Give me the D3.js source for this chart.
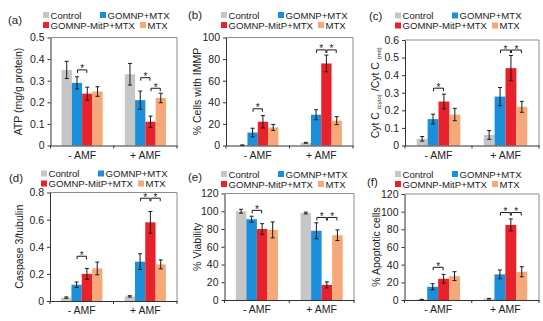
<!DOCTYPE html>
<html>
<head>
<meta charset="utf-8">
<script src="https://cdn.jsdelivr.net/npm/d3@7"></script>
<style>
  body { margin: 0; background: #fff; }
  svg { display: block; font-family: "Liberation Sans", Arial, sans-serif; }
</style>
</head>
<body>
<div id="chart"></div>
<script>
// shared categories / series
const categories = ['- AMF', '+ AMF'];
const seriesNames = ['Control', 'GOMNP+MTX', 'GOMNP-MitP+MTX', 'MTX'];
const seriesColors = ['#c6c6c6', '#1b8fd9', '#e8222b', '#f6a878'];

// (a) ATP, rows = categories, cols = series
const atpMean = [[0.35, 0.29, 0.24, 0.25], [0.33, 0.21, 0.11, 0.22]];
const atpErr = [[0.04, 0.028, 0.03, 0.022], [0.05, 0.042, 0.026, 0.022]];
const atpSig = [[0, 1, 2, 0.35], [1, 1, 2, 0.314], [1, 2, 3, 0.265]];
const atpTicks = [0, 0.1, 0.2, 0.3, 0.4, 0.5];

// (b) % cells with IMMP
const immpMean = [[0.3, 12, 22, 16.7], [2.5, 28.5, 76, 23]];
const immpErr = [[0.2, 4, 5.7, 2.8], [0.4, 4.6, 7.7, 3.7]];
const immpSig = [[0, 1, 2, 34], [1, 1, 2, 88.5], [1, 2, 3, 88.5]];
const immpTicks = [0, 20, 40, 60, 80, 100];

// (c) Cyt C ratio
const cytMean = [[0.038, 0.15, 0.25, 0.176], [0.06, 0.278, 0.44, 0.22]];
const cytErr = [[0.013, 0.028, 0.042, 0.035], [0.025, 0.052, 0.072, 0.031]];
const cytSig = [[0, 1, 2, 0.326], [1, 1, 2, 0.543], [1, 2, 3, 0.543]];
const cytTicks = [0, 0.1, 0.2, 0.3, 0.4, 0.5, 0.6];

// (d) Caspase 3/tubulin
const caspMean = [[0.025, 0.12, 0.2, 0.24], [0.034, 0.29, 0.58, 0.27]];
const caspErr = [[0.005, 0.02, 0.04, 0.047], [0.005, 0.058, 0.08, 0.033]];
const caspSig = [[0, 1, 2, 0.33], [1, 1, 2, 0.758], [1, 2, 3, 0.758]];
const caspTicks = [0, 0.2, 0.4, 0.6, 0.8];

// (e) % viability
const viaMean = [[100, 91, 80, 79], [98, 78, 17, 73]];
const viaErr = [[2.2, 3.4, 6, 9], [1, 9, 3.4, 6]];
const viaSig = [[0, 1, 2, 101], [1, 1, 2, 93], [1, 2, 3, 93]];
const viaTicks = [0, 20, 40, 60, 80, 100, 120];

// (f) % apoptotic cells
const apoMean = [[0.5, 15, 24, 27], [1.5, 29, 85, 32]];
const apoErr = [[0.2, 3.4, 5, 5], [0.3, 5, 6.8, 5.7]];
const apoSig = [[0, 1, 2, 37], [1, 1, 2, 99], [1, 2, 3, 99]];
const apoTicks = [0, 20, 40, 60, 80, 100, 120];

const fmt = d => String(+d.toFixed(1));

const panels = [
  {tag: '(a)', title: ['ATP (mg/g protein)'], mean: atpMean, err: atpErr, sig: atpSig, ticks: atpTicks,
   left: 50.5, right: 177, top: 37.5, bottom: 145.5, tagX: 8, tagY: 24, titleX: 22, legX: 43, legY: 15},
  {tag: '(b)', title: ['% Cells with IMMP'], mean: immpMean, err: immpErr, sig: immpSig, ticks: immpTicks,
   left: 226, right: 353, top: 37.5, bottom: 145.5, tagX: 188, tagY: 19, titleX: 201, legX: 221, legY: 15},
  {tag: '(c)', title: null, mean: cytMean, err: cytErr, sig: cytSig, ticks: cytTicks,
   left: 405, right: 539, top: 40, bottom: 145.5, tagX: 369, tagY: 19.5, titleX: 379, legX: 395, legY: 15.5},
  {tag: '(d)', title: ['Caspase 3/tubulin'], mean: caspMean, err: caspErr, sig: caspSig, ticks: caspTicks,
   left: 50, right: 177, top: 192.5, bottom: 301, tagX: 9, tagY: 182, titleX: 23, legX: 41, legY: 173.5},
  {tag: '(e)', title: ['% Viability'], mean: viaMean, err: viaErr, sig: viaSig, ticks: viaTicks,
   left: 224.5, right: 354, top: 193.5, bottom: 300, tagX: 188, tagY: 181, titleX: 201, legX: 221, legY: 174},
  {tag: '(f)', title: ['% Apoptotic cells'], mean: apoMean, err: apoErr, sig: apoSig, ticks: apoTicks,
   left: 404.5, right: 539, top: 194, bottom: 300, tagX: 367, tagY: 186, titleX: 380, legX: 395, legY: 174}
];

const svg = d3.select('#chart').append('svg')
    .attr('width', 543)
    .attr('height', 321);

panels.forEach(drawPanel);

function drawPanel(p) {
  const g = svg.append('g');
  const yMax = d3.max(p.ticks);

  const x0 = d3.scaleBand()
      .domain(categories)
      .range([p.left, p.right])
      .paddingInner(0.35)
      .paddingOuter(0.175);
  const x1 = d3.scaleBand()
      .domain(seriesNames)
      .range([0, x0.bandwidth()]);
  const y = d3.scaleLinear()
      .domain([0, yMax])
      .range([p.bottom, p.top]);

  const rows = [];
  categories.forEach((c, ci) => seriesNames.forEach((s, si) => {
    rows.push({cat: c, s: s, si: si, v: p.mean[ci][si], e: p.err[ci][si]});
  }));

  // plot border (top / right)
  g.append('path')
      .attr('d', `M${p.left},${p.top}H${p.right}V${p.bottom}`)
      .attr('fill', 'none')
      .attr('stroke', '#8c8c8c')
      .attr('stroke-width', 1);

  // bars
  g.append('g')
    .selectAll('rect')
    .data(rows)
    .join('rect')
      .attr('x', d => x0(d.cat) + x1(d.s))
      .attr('y', d => y(d.v))
      .attr('width', x1.bandwidth())
      .attr('height', d => y(0) - y(d.v))
      .attr('fill', d => seriesColors[d.si]);

  // error bars
  const eb = g.append('g')
      .attr('stroke', '#1a1a1a')
      .attr('stroke-width', 1)
    .selectAll('g')
    .data(rows)
    .join('g')
      .attr('transform', d => `translate(${x0(d.cat) + x1(d.s) + x1.bandwidth() / 2},0)`);
  eb.append('line')
      .attr('y1', d => y(d.v + d.e))
      .attr('y2', d => y(Math.max(0, d.v - d.e)));
  eb.append('line')
      .attr('x1', -2).attr('x2', 2)
      .attr('y1', d => y(d.v + d.e)).attr('y2', d => y(d.v + d.e));
  eb.append('line')
      .attr('x1', -2).attr('x2', 2)
      .attr('y1', d => y(Math.max(0, d.v - d.e))).attr('y2', d => y(Math.max(0, d.v - d.e)));

  // significance brackets
  const sg = g.append('g')
    .selectAll('g')
    .data(p.sig)
    .join('g');
  const cx = (ci, si) => x0(categories[ci]) + x1(seriesNames[si]) + x1.bandwidth() / 2;
  sg.append('path')
      .attr('d', d => `M${cx(d[0], d[1]) + 0.5},${y(d[3]) + 3}V${y(d[3])}H${cx(d[0], d[2]) - 0.5}V${y(d[3]) + 3}`)
      .attr('fill', 'none')
      .attr('stroke', '#1a1a1a')
      .attr('stroke-width', 1);
  sg.append('text')
      .attr('x', d => (cx(d[0], d[1]) + cx(d[0], d[2])) / 2)
      .attr('y', d => y(d[3]) + 2.5)
      .attr('text-anchor', 'middle')
      .attr('font-size', 10)
      .attr('fill', '#1a1a1a')
      .text('*');

  // y axis
  const ya = g.append('g')
      .attr('transform', `translate(${p.left},0)`)
      .call(d3.axisLeft(y).tickValues(p.ticks).tickFormat(fmt).tickSize(3).tickSizeOuter(0).tickPadding(3));
  ya.select('.domain').attr('stroke', '#333');
  ya.selectAll('.tick line').attr('stroke', '#333');
  ya.selectAll('.tick text').attr('font-size', 10.5).attr('fill', '#222')
      .attr('font-family', '"Liberation Sans", Arial, sans-serif');

  // x axis
  const xa = g.append('g')
      .attr('transform', `translate(0,${p.bottom})`)
      .call(d3.axisBottom(x0).tickSize(0).tickPadding(6));
  xa.select('.domain').attr('stroke', '#333');
  xa.selectAll('.tick text').attr('font-size', 10.5).attr('fill', '#222')
      .attr('font-family', '"Liberation Sans", Arial, sans-serif');
  const bounds = categories.map(c => x0(c) - x0.step() * x0.paddingInner() / 2).concat([p.right]);
  xa.selectAll('.sep')
    .data(bounds)
    .join('line')
      .attr('class', 'sep')
      .attr('x1', d => d).attr('x2', d => d)
      .attr('y1', 0).attr('y2', 3)
      .attr('stroke', '#333');

  // y title
  const tt = g.append('text')
      .attr('transform', `translate(${p.titleX},${(p.top + p.bottom) / 2}) rotate(-90)`)
      .attr('text-anchor', 'middle')
      .attr('font-size', 10.5)
      .attr('fill', '#222');
  if (p.title) {
    tt.text(p.title[0]);
  } else {
    tt.append('tspan').text('Cyt C ');
    tt.append('tspan').attr('font-size', 6).attr('dy', 2).text('(cyto)');
    tt.append('tspan').attr('dy', -2).text(' /Cyt C ');
    tt.append('tspan').attr('font-size', 6).attr('dy', 2).text('(mit)');
  }

  // panel tag
  g.append('text')
      .attr('x', p.tagX)
      .attr('y', p.tagY)
      .attr('font-size', 11.5)
      .attr('fill', '#222')
      .text(p.tag);

  // legend: 2 rows x 2 columns
  const legPos = [[0, 0], [57, 0], [0, 10], [97, 10]];
  const lg = g.append('g')
    .selectAll('g')
    .data(seriesNames)
    .join('g')
      .attr('transform', (d, i) => `translate(${p.legX + legPos[i][0]},${p.legY + legPos[i][1]})`);
  lg.append('rect')
      .attr('x', 0).attr('y', -3)
      .attr('width', 6).attr('height', 6)
      .attr('fill', (d, i) => seriesColors[i]);
  lg.append('text')
      .attr('x', 7.5)
      .attr('y', 3.6)
      .attr('font-size', 9.6)
      .attr('fill', '#222')
      .text(d => d);
}
</script>
</body>
</html>
